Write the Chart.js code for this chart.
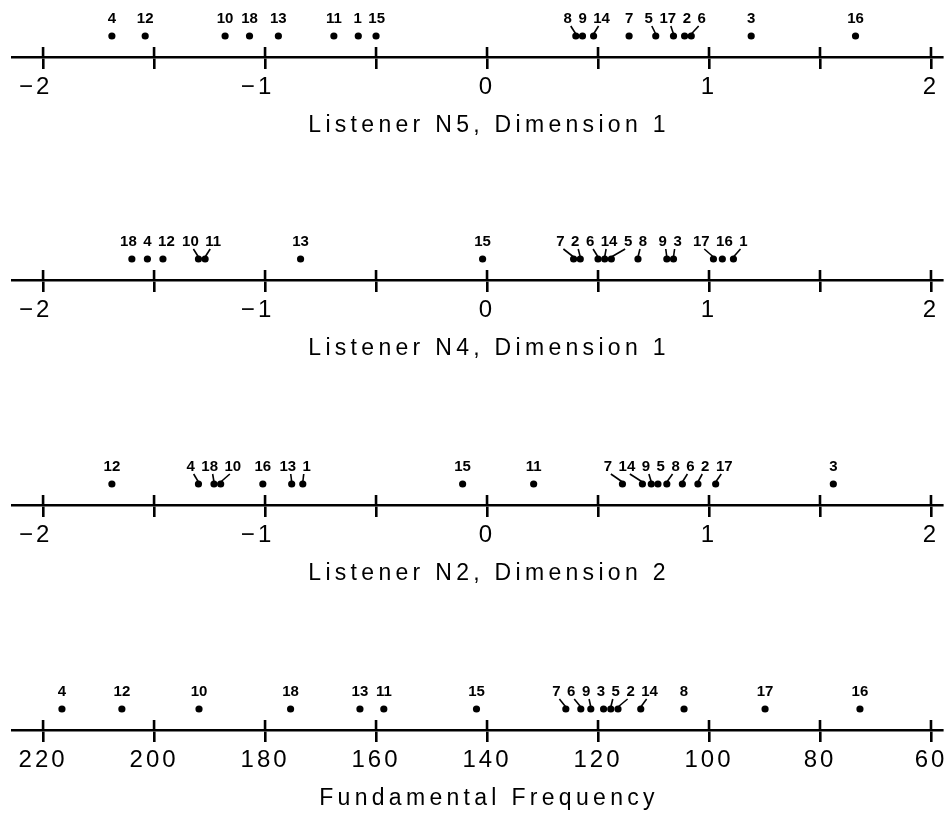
<!DOCTYPE html>
<html>
<head>
<meta charset="utf-8">
<script src="https://cdn.jsdelivr.net/npm/chart.js@4.4.1/dist/chart.umd.min.js"></script>
<style>
  html, body { margin: 0; padding: 0; background: #fff; overflow: hidden; }
  .strip { position: absolute; left: 0; width: 949px; height: 224px; }
</style>
</head>
<body>
<div class="strip" style="top:0px"><canvas id="c0"></canvas></div>
<div class="strip" style="top:223px"><canvas id="c1"></canvas></div>
<div class="strip" style="top:448px"><canvas id="c2"></canvas></div>
<div class="strip" style="top:673px"><canvas id="c3"></canvas></div>
<script>
// Stimulus numbers and their scale values, one pair of arrays per strip
const n5Ids  = [4, 12, 10, 18, 13, 11, 1, 15, 8, 9, 14, 7, 5, 17, 2, 6, 3, 16];
const n5Vals = [-1.69, -1.54, -1.18, -1.07, -0.94, -0.69, -0.58, -0.50, 0.40, 0.43, 0.48, 0.64, 0.76, 0.84, 0.89, 0.92, 1.19, 1.66];

const n4Ids  = [18, 4, 12, 10, 11, 13, 15, 7, 2, 6, 14, 5, 8, 9, 3, 17, 16, 1];
const n4Vals = [-1.60, -1.53, -1.46, -1.30, -1.27, -0.84, -0.02, 0.39, 0.42, 0.50, 0.53, 0.56, 0.68, 0.81, 0.84, 1.02, 1.06, 1.11];

const n2Ids  = [12, 4, 18, 10, 16, 13, 1, 15, 11, 7, 14, 9, 5, 8, 6, 2, 17, 3];
const n2Vals = [-1.69, -1.30, -1.23, -1.20, -1.01, -0.88, -0.83, -0.11, 0.21, 0.61, 0.70, 0.74, 0.77, 0.81, 0.88, 0.95, 1.03, 1.56];

const f0Ids  = [4, 12, 10, 18, 13, 11, 15, 7, 6, 9, 3, 5, 2, 14, 8, 17, 16];
const f0Vals = [216.6, 205.8, 191.9, 175.4, 162.9, 158.6, 141.9, 125.8, 123.1, 121.3, 119.0, 117.7, 116.4, 112.3, 104.5, 89.9, 72.8];

// Axis ticks
const dimTicks = [-2, -1.5, -1, -0.5, 0, 0.5, 1, 1.5, 2];
const dimTickLabels = ['\u22122', '', '\u22121', '', '0', '', '1', '', '2'];
const freqTicks = [220, 200, 180, 160, 140, 120, 100, 80, 60];
const freqTickLabels = ['220', '200', '180', '160', '140', '120', '100', '80', '60'];

const titles = ['Listener N5, Dimension 1', 'Listener N4, Dimension 1', 'Listener N2, Dimension 2', 'Fundamental Frequency'];

const STRIP_H = 224;
const AXIS_Y = 57;

// push overlapping labels apart, keeping each group centred on its points
function spreadLabels(items, gap) {
    const layout = c => {
        let off = 0;
        const rel = c.items.map(it => { const cx = off + it.w / 2; off += it.w + gap; return cx; });
        const meanX = c.items.reduce((s, it) => s + it.x, 0) / c.items.length;
        const meanRel = rel.reduce((s, r) => s + r, 0) / rel.length;
        c.left = meanX - meanRel;
        c.right = c.left + off - gap;
        c.items.forEach((it, i) => it.lx = c.left + rel[i]);
    };
    const clusters = items.map(it => ({ items: [it] }));
    clusters.forEach(layout);
    let merged = true;
    while (merged) {
        merged = false;
        for (let i = 0; i < clusters.length - 1; i++) {
            if (clusters[i].right + gap > clusters[i + 1].left) {
                clusters[i].items = clusters[i].items.concat(clusters[i + 1].items);
                clusters.splice(i + 1, 1);
                layout(clusters[i]);
                merged = true;
                break;
            }
        }
    }
}

const stripPlugin = {
    id: 'strip',
    beforeDraw(chart) {
        chart.ctx.letterSpacing = '3px';
    },
    afterDraw(chart, args, opts) {
        const ctx = chart.ctx;
        const xs = chart.scales.x;
        const axisY = chart.chartArea.bottom;
        ctx.save();
        ctx.letterSpacing = '0px';

        // upper half of the tick crosses
        ctx.strokeStyle = '#000';
        ctx.lineWidth = 2.6;
        xs.ticks.forEach(t => {
            const px = xs.getPixelForValue(t.value);
            ctx.beginPath();
            ctx.moveTo(px, axisY - 10);
            ctx.lineTo(px, axisY);
            ctx.stroke();
        });

        // stimulus number labels
        const meta = chart.getDatasetMeta(0);
        ctx.font = 'bold 15px "Liberation Sans Narrow", "Arial Narrow", "Liberation Sans", sans-serif';
        ctx.textAlign = 'center';
        ctx.textBaseline = 'alphabetic';
        ctx.fillStyle = '#000';
        const items = meta.data.map((el, i) => ({
            x: el.x, y: el.y, text: String(opts.ids[i]),
            w: ctx.measureText(String(opts.ids[i])).width
        })).sort((a, b) => a.x - b.x);
        spreadLabels(items, 6.5);
        ctx.lineWidth = 1.6;
        items.forEach(it => {
            const base = it.y - 13;
            ctx.fillText(it.text, it.lx, base);
            if (Math.abs(it.lx - it.x) > 3.5) {
                ctx.beginPath();
                ctx.moveTo(it.lx + (it.x > it.lx ? 3 : -3), base + 3);
                ctx.lineTo(it.x, it.y - 2);
                ctx.stroke();
            }
        });

        // strip title, centred between the end ticks
        const first = xs.getPixelForValue(opts.ticks[0]);
        const last = xs.getPixelForValue(opts.ticks[opts.ticks.length - 1]);
        ctx.font = '23px "Liberation Sans", Arial, sans-serif';
        ctx.letterSpacing = '4.3px';
        ctx.textBaseline = 'middle';
        ctx.fillText(opts.title, (first + last) / 2 + 2, axisY + 69);
        ctx.restore();
    }
};

function makeStrip(canvasId, ids, vals, ticks, tickLabels, title, reverse) {
    const lo = Math.min(...ticks), hi = Math.max(...ticks);
    const span = hi - lo;
    // line runs a little past the end ticks, further on the left
    const min = reverse ? lo - span * 0.0124 : lo - span * 0.035;
    const max = reverse ? hi + span * 0.035 : hi + span * 0.0124;
    return new Chart(document.getElementById(canvasId), {
        type: 'scatter',
        data: {
            datasets: [{
                data: vals.map(v => ({ x: v, y: 0.5 })),
                backgroundColor: '#000',
                borderWidth: 0,
                pointRadius: 3.6,
                pointHoverRadius: 3.6
            }]
        },
        options: {
            responsive: true,
            maintainAspectRatio: false,
            animation: false,
            layout: { padding: { top: 15, left: 12, right: 7, bottom: 0 } },
            plugins: {
                legend: { display: false },
                tooltip: { enabled: false },
                strip: { ids: ids, ticks: ticks, title: title }
            },
            scales: {
                x: {
                    type: 'linear',
                    min: min,
                    max: max,
                    reverse: reverse,
                    afterBuildTicks: s => { s.ticks = ticks.map(v => ({ value: v })); },
                    afterFit: s => { s.height = STRIP_H - AXIS_Y; },
                    border: { display: true, color: '#000', width: 2.6 },
                    grid: {
                        display: true,
                        drawOnChartArea: false,
                        drawTicks: true,
                        tickLength: 12,
                        color: '#000',
                        lineWidth: 2.6
                    },
                    ticks: {
                        autoSkip: false,
                        maxRotation: 0,
                        padding: 4,
                        color: '#000',
                        font: { family: '"Liberation Sans", Arial, sans-serif', size: 24 },
                        callback: v => {
                            const lab = tickLabels[ticks.indexOf(v)] || '';
                            return lab.startsWith('\u2212') ? lab + '\u2002' : lab;
                        }
                    }
                },
                y: { display: false, min: 0, max: 1 }
            }
        },
        plugins: [stripPlugin]
    });
}

makeStrip('c0', n5Ids, n5Vals, dimTicks, dimTickLabels, titles[0], false);
makeStrip('c1', n4Ids, n4Vals, dimTicks, dimTickLabels, titles[1], false);
makeStrip('c2', n2Ids, n2Vals, dimTicks, dimTickLabels, titles[2], false);
makeStrip('c3', f0Ids, f0Vals, freqTicks, freqTickLabels, titles[3], true);
</script>
</body>
</html>
